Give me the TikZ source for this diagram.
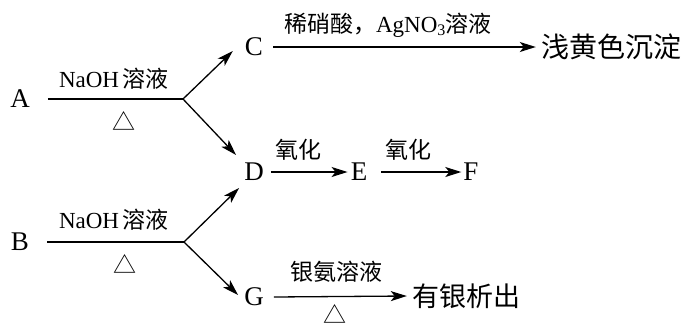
\documentclass[tikz,border=0pt]{standalone}
\usepackage{fontspec}
\setmainfont{Liberation Serif}
\newfontfamily\cjk{Noto Sans CJK SC}
\usetikzlibrary{arrows.meta,calc}
\begin{document}
\begin{tikzpicture}[x=1pt,y=-1pt,
  lett/.style={inner sep=0pt,font=\fontsize{27}{27}\selectfont},
  lab/.style={inner sep=0pt,font=\fontsize{23}{23}\selectfont},
  res/.style={inner sep=0pt,font=\fontsize{28}{28}\cjk},
  arr/.style={line width=1.3pt,-{Stealth[length=16pt,width=10pt,inset=4pt]}},
  ln/.style={line width=1.3pt}]
\useasboundingbox (0,0) rectangle (685,327);
% row A
\node[lett] (A) at (20,99) {A};
\coordinate (p1) at (183,99);
\node[lab] (la) at (114,79) {NaOH\,{\cjk 溶液}};
\node[lab] (ta) at (124,121) {{\cjk △}};
\node[lett] (C) at (254,47) {C};
\node[lett] (D) at (254,172) {D};
\node[lett] (E) at (359,172) {E};
\node[lett] (F) at (471,172) {F};
\node[res] (R1) at (611,47) {浅黄色沉淀};
\node[lab] (lc) at (388,25) {{\cjk 稀硝酸，}AgNO\textsubscript{3}{\cjk 溶液}};
\node[lab,font=\fontsize{23}{23}\cjk] (o1) at (298,150) {氧化};
\node[lab,font=\fontsize{23}{23}\cjk] (o2) at (408,150) {氧化};
\draw[ln] ($(A.east)+(18,0)$) -- (p1);
\draw[arr] (p1) -- ($(C.west)+(-12,4)$);
\draw[arr] (p1) -- ($(D.west)+(-8,-17)$);
\draw[arr] ($(C.east)+(10,0)$) -- ($(R1.west)+(-5,0)$);
\draw[arr] ($(D.east)+(7,0)$) -- ($(E.west)+(-3,0)$);
\draw[arr] ($(E.east)+(14,0)$) -- ($(F.west)+(-2,0)$);
% row B
\node[lett] (B) at (20,242) {B};
\coordinate (p2) at (184,242);
\node[lab] (lb) at (114,220) {NaOH\,{\cjk 溶液}};
\node[lab] (tb) at (125,264) {{\cjk △}};
\node[lett] (G) at (254,297) {G};
\node[res,font=\fontsize{27}{27}\cjk] (R2) at (466,296) {有银析出};
\node[lab,font=\fontsize{23}{23}\cjk] (lg) at (336,272) {银氨溶液};
\node[lab] (tg) at (335,314) {{\cjk △}};
\draw[ln] ($(B.east)+(18,0)$) -- (p2);
\draw[arr] (p2) -- ($(D.west)+(-5,16)$);
\draw[arr] (p2) -- ($(G.west)+(-6,-2)$);
\draw[arr] ($(G.east)+(10,0)$) -- ($(R2.west)+(-5,0)$);
\end{tikzpicture}
\end{document}
